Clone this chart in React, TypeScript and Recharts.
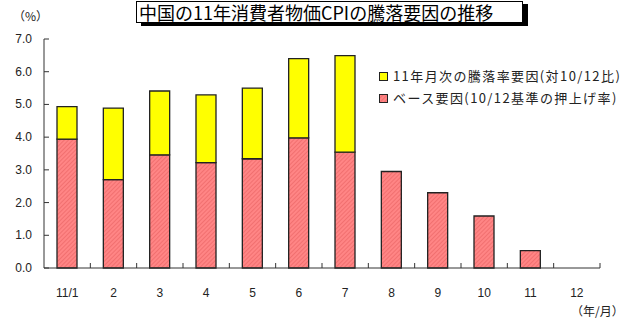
import React from "react";
import { BarChart, Bar, XAxis, YAxis } from "recharts";

// 月ラベルとCPI騰落の内訳（%）
const months = ["11/1", "2", "3", "4", "5", "6", "7", "8", "9", "10", "11", "12"];
const baseEffect = [3.94, 2.7, 3.46, 3.22, 3.34, 3.98, 3.54, 2.95, 2.3, 1.59, 0.53, null];
const monthlyEffect = [0.99, 2.19, 1.95, 2.07, 2.16, 2.42, 2.95, null, null, null, null, null];
const yTicks = [0, 1, 2, 3, 4, 5, 6, 7];

const W = 631;
const H = 322;
const PLOT_LEFT = 44;
const PLOT_RIGHT = 600;
const HALF_BAND = (PLOT_RIGHT - PLOT_LEFT) / months.length / 2;

const jp = "'Noto Sans CJK JP', sans-serif";
const num = "'Liberation Sans', Arial, sans-serif";
const AXIS = "#333";

const data = months.map((m, i) => ({
  month: m,
  base: baseEffect[i],
  monthly: monthlyEffect[i],
}));

// 目盛りは内向き
const YTick = ({ x, y, payload }: any) => (
  <g>
    <line x1={x} x2={x + 5} y1={y} y2={y} stroke={AXIS} strokeWidth={1} />
    <text x={x - 12} y={y} dy={4} textAnchor="end" fontFamily={num} fontSize={12} fill="#222">
      {Number(payload.value).toFixed(1)}
    </text>
  </g>
);

const XTick = ({ x, y, payload }: any) => (
  <g>
    <line x1={x + HALF_BAND} x2={x + HALF_BAND} y1={y} y2={y - 5} stroke={AXIS} strokeWidth={1} />
    <text x={x} y={y + 25} dy={4} textAnchor="middle" fontFamily={num} fontSize={12} fill="#222">
      {payload.value}
    </text>
  </g>
);

const LegendBox = () => (
  <div
    style={{
      position: "absolute",
      left: 379,
      top: 65,
      fontFamily: jp,
      fontSize: 13,
      letterSpacing: 1.4,
      color: "#222",
      lineHeight: "22px",
      whiteSpace: "nowrap",
    }}
  >
    <div style={{ display: "flex", alignItems: "center" }}>
      <span style={{ display: "inline-block", width: 7, height: 7, background: "#ffff00", border: "1px solid #222", marginRight: 5 }} />
      11年月次の騰落率要因(対10/12比)
    </div>
    <div style={{ display: "flex", alignItems: "center" }}>
      <svg width={9} height={9} style={{ marginRight: 5 }}>
        <rect x={0.5} y={0.5} width={8} height={8} fill="url(#redHatch)" stroke="#222" />
      </svg>
      ベース要因(10/12基準の押上げ率)
    </div>
  </div>
);

export default function App() {
  return (
    <div style={{ position: "absolute", left: 0, top: 0, width: W, height: H, background: "#fff", overflow: "hidden" }}>
      <BarChart
        width={W}
        height={H}
        data={data}
        margin={{ top: 39, right: W - PLOT_RIGHT, bottom: 24, left: 0 }}
        barSize={20}
      >
        <defs>
          <pattern id="redHatch" width={3} height={3} patternUnits="userSpaceOnUse" patternTransform="rotate(45)">
            <rect width={3} height={3} fill="#ff8585" />
            <line x1={0} y1={0} x2={0} y2={3} stroke="#e86262" strokeWidth={1.2} />
          </pattern>
        </defs>
        <XAxis
          dataKey="month"
          height={30}
          tickSize={0}
          tickMargin={0}
          tick={<XTick />}
          stroke={AXIS}
          interval={0}
        />
        <YAxis
          width={PLOT_LEFT}
          domain={[0, 7]}
          ticks={yTicks}
          tickSize={0}
          tickMargin={0}
          tick={<YTick />}
          stroke={AXIS}
          interval={0}
        />
        <Bar dataKey="base" stackId="cpi" fill="url(#redHatch)" stroke="#222" strokeWidth={1.3} isAnimationActive={false} />
        <Bar dataKey="monthly" stackId="cpi" fill="#ffff00" stroke="#222" strokeWidth={1.3} isAnimationActive={false} />
      </BarChart>

      <LegendBox />

      {/* タイトル枠（影付き） */}
      <div
        style={{
          position: "absolute",
          left: 136,
          top: 1,
          width: 387,
          height: 22,
          border: "1px solid #000",
          boxShadow: "5px 3px 0 #000",
          background: "#fff",
          fontFamily: jp,
          fontSize: 18,
          lineHeight: "20px",
          paddingLeft: 2,
          boxSizing: "border-box",
          color: "#000",
          whiteSpace: "nowrap",
        }}
      >
        中国の11年消費者物価CPIの騰落要因の推移
      </div>
      <div style={{ position: "absolute", left: 13, top: 7, fontFamily: jp, fontSize: 12, color: "#222" }}>（%）</div>
      <div style={{ position: "absolute", left: 571, top: 302, fontFamily: jp, fontSize: 12, color: "#222" }}>（年/月）</div>
    </div>
  );
}
